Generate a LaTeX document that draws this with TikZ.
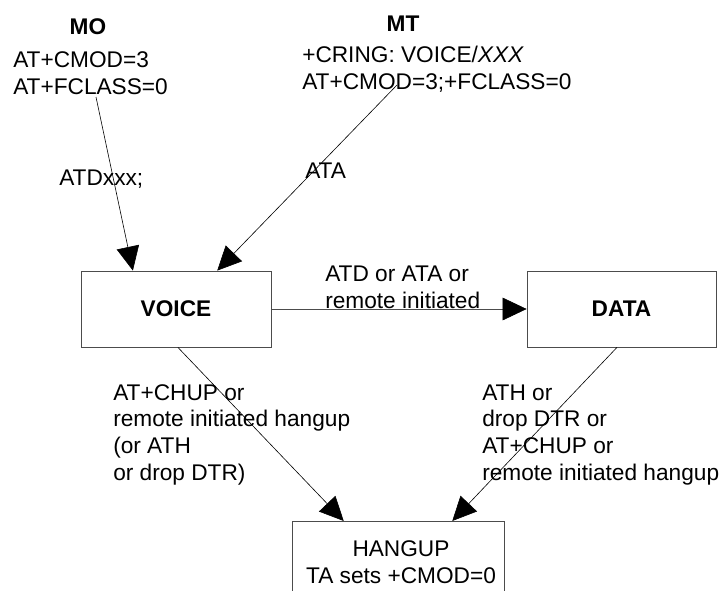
\documentclass[tikz,border=0pt]{standalone}
\usepackage{fontspec}
\setmainfont{Liberation Sans}
\usetikzlibrary{arrows.meta,calc}

\newcommand{\labelfont}{\fontsize{17}{20}\selectfont}

\tikzset{
  state/.style={draw=black!70, line width=0.6pt, font=\labelfont\bfseries, inner sep=0pt},
  trans/.style={-{Triangle[length=18pt,width=17pt,color=black]}, line width=0.45pt},
  txt/.style={inner sep=0pt, align=left, anchor=base west, font=\labelfont},
}

\begin{document}
\begin{tikzpicture}[x=0.75pt,y=-0.75pt]

\useasboundingbox (0,0) rectangle (722,590);

% states
\node [state, minimum width=142.5pt, minimum height=57pt] (voice) at (176,309) {VOICE};
\node [state, minimum width=141.75pt, minimum height=57pt] (data) at (621.5,309) {DATA};
\node [state, minimum width=159pt, minimum height=75pt, anchor=north] (hangup) at (398,521) {};
\node [font=\labelfont, align=center, anchor=base, inner sep=0pt] (hangtext) at (401,583) {HANGUP\\TA sets +CMOD=0};

% headers (base of a multi-line node = its last line)
\node [txt, font=\labelfont\bfseries, anchor=base] (mohead) at (88,34) {MO};
\node [txt] (mocmd) at (13,94) {AT+CMOD=3\\AT+FCLASS=0};
\node [txt, font=\labelfont\bfseries, anchor=base] (mthead) at (403,31) {MT};
\node [txt] (mtcmd) at (302,89) {+CRING: VOICE/\textit{XXX}\\AT+CMOD=3;+FCLASS=0};

% transition labels
\node [txt] (atd) at (59,185) {ATDxxx;};
\node [txt] (ata) at (305,178) {ATA};
\node [txt] (todata) at (325,308) {ATD or ATA or\\remote initiated};
\node [txt] (voicehang) at (113,480) {AT+CHUP or\\remote initiated hangup\\(or ATH\\or drop DTR)};
\node [txt] (datahang) at (482,480) {ATH or\\drop DTR or\\AT+CHUP or\\remote initiated hangup};

\coordinate (mostart) at (96,97);
\coordinate (mtstart) at (397,85);

\draw [trans] (mostart) -- ($(voice.north west)!0.274!(voice.north east)$);
\draw [trans] (mtstart) -- ($(voice.north west)!0.716!(voice.north east)$);
\draw [trans, draw=black!70] (voice.east) -- (data.west);
\draw [trans] ($(voice.south west)!0.51!(voice.south east)$) -- ($(hangup.north west)!0.245!(hangup.north east)$);
\draw [trans] ($(data.south west)!0.476!(data.south east)$) -- ($(hangup.north west)!0.755!(hangup.north east)$);

\end{tikzpicture}
\end{document}
